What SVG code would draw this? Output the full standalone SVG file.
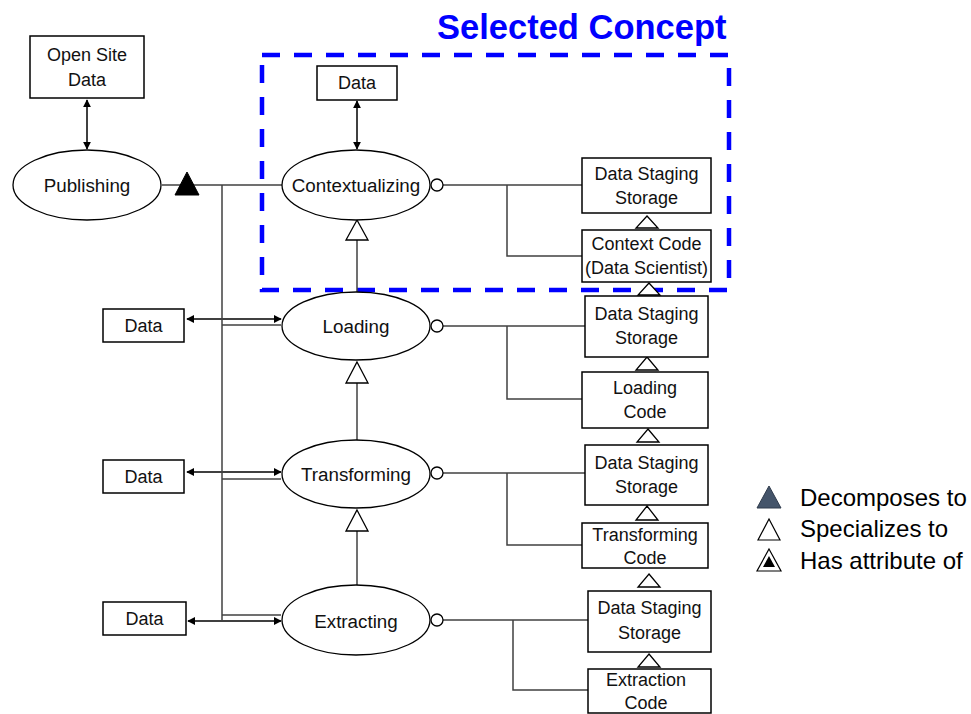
<svg xmlns="http://www.w3.org/2000/svg" width="971" height="714" viewBox="0 0 971 714">
  <style>
    .box { fill: #fff; stroke: #000; stroke-width: 1.5; }
    .proc { fill: #fff; stroke: #000; stroke-width: 1.3; }
    .t { font-family: "Liberation Sans", Arial, sans-serif; font-size: 18px; fill: #111; text-anchor: middle; dominant-baseline: central; }
    .tp { font-family: "Liberation Sans", Arial, sans-serif; font-size: 18.8px; fill: #111; text-anchor: middle; dominant-baseline: central; }
    .wire { fill: none; stroke: #404040; stroke-width: 1.5; }
    .arr { fill: none; stroke: #000; stroke-width: 1.5; marker-start: url(#ah); marker-end: url(#ah); }
    .spec { fill: #fff; stroke: #000; stroke-width: 1.3; }
    .dot { fill: #fff; stroke: #000; stroke-width: 1.3; }
    .leg { font-family: "Liberation Sans", Arial, sans-serif; font-size: 24px; fill: #000; }
  </style>
  <defs>
    <marker id="ah" viewBox="0 0 10 10" refX="9" refY="5" markerWidth="8" markerHeight="8" markerUnits="userSpaceOnUse" orient="auto-start-reverse">
      <path d="M0,0 L10,5 L0,10 z" fill="#000"/>
    </marker>
  </defs>

  <rect width="971" height="714" fill="#fff"/>

  <!-- selection frame -->
  <g id="selection">
    <rect x="262" y="55" width="467" height="235" fill="none" stroke="#0000FF" stroke-width="4.5" stroke-dasharray="18 14"/>
    <text x="437" y="39" font-family="Liberation Sans, Arial, sans-serif" font-size="34.5" font-weight="bold" fill="#0000FF">Selected Concept</text>
  </g>

  <!-- connectors -->
  <g id="connectors">
    <!-- data exchange arrows -->
    <line class="arr" x1="87" y1="100" x2="87" y2="149"/>
    <line class="arr" x1="357" y1="101" x2="357" y2="149"/>
    <line class="arr" x1="187" y1="319" x2="281" y2="319"/>
    <line class="arr" x1="187" y1="472" x2="281" y2="472"/>
    <line class="arr" x1="188" y1="621" x2="281" y2="621"/>

    <!-- decomposition trunk -->
    <line class="wire" x1="162" y1="185" x2="282" y2="185"/>
    <line class="wire" x1="222" y1="185" x2="222" y2="621"/>
    <line class="wire" x1="222" y1="325" x2="281" y2="325"/>
    <line class="wire" x1="222" y1="479" x2="281" y2="479"/>
    <line class="wire" x1="222" y1="615" x2="281" y2="615"/>

    <!-- specialization chain of processes -->
    <line class="wire" x1="357" y1="240" x2="357" y2="292"/>
    <line class="wire" x1="357" y1="383" x2="357" y2="440"/>
    <line class="wire" x1="357" y1="531" x2="357" y2="585"/>

    <!-- attribute links to storage / code -->
    <line class="wire" x1="443" y1="185" x2="582" y2="185"/>
    <polyline class="wire" points="507,185 507,256 582,256"/>
    <line class="wire" x1="443" y1="326" x2="585" y2="326"/>
    <polyline class="wire" points="507,326 507,399 582,399"/>
    <line class="wire" x1="443" y1="473" x2="585" y2="473"/>
    <polyline class="wire" points="507,473 507,545 582,545"/>
    <line class="wire" x1="443" y1="620" x2="588" y2="620"/>
    <polyline class="wire" points="513,620 513,690 588,690"/>

    <!-- decomposition marker -->
    <polygon points="187,172 199,195 175,195" fill="#000" stroke="#000" stroke-width="1"/>

    <!-- specialization markers under processes -->
    <polygon class="spec" points="357,220 368,240 346,240"/>
    <polygon class="spec" points="357,362 368,383 346,383"/>
    <polygon class="spec" points="357,510 368,531 346,531"/>

    <!-- specialization markers between storage / code boxes -->
    <polygon class="spec" points="647,216 658,228 636,228"/>
    <polygon class="spec" points="649,283 660,295 638,295"/>
    <polygon class="spec" points="647,357 658,370 636,370"/>
    <polygon class="spec" points="648,429 659,442 637,442"/>
    <polygon class="spec" points="647,506 658,520 636,520"/>
    <polygon class="spec" points="649,574 660,587 638,587"/>
    <polygon class="spec" points="649,654 660,667 638,667"/>

    <!-- attribute circles -->
    <circle class="dot" cx="437" cy="185" r="6"/>
    <circle class="dot" cx="437" cy="326" r="6"/>
    <circle class="dot" cx="437" cy="473" r="6"/>
    <circle class="dot" cx="437" cy="620" r="6"/>
  </g>

  <!-- nodes -->
  <g id="open-site-data">
    <rect class="box" x="30" y="36" width="114" height="62"/>
    <text class="t" x="87" y="55">Open Site</text>
    <text class="t" x="87" y="80">Data</text>
  </g>
  <g id="publishing">
    <ellipse class="proc" cx="87" cy="185" rx="74" ry="35"/>
    <text class="tp" x="87" y="185">Publishing</text>
  </g>

  <g id="data-ctx">
    <rect class="box" x="317" y="66" width="80" height="34"/>
    <text class="t" x="357" y="83">Data</text>
  </g>
  <g id="contextualizing">
    <ellipse class="proc" cx="356" cy="185" rx="74" ry="35"/>
    <text class="tp" x="356" y="185">Contextualizing</text>
  </g>
  <g id="dss-ctx">
    <rect class="box" x="582" y="158" width="129" height="55"/>
    <text class="t" x="646.5" y="174">Data Staging</text>
    <text class="t" x="646.5" y="198">Storage</text>
  </g>
  <g id="context-code">
    <rect class="box" x="582" y="230" width="129" height="52"/>
    <text class="t" x="646.5" y="244">Context Code</text>
    <text class="t" x="646.5" y="268" font-size="17.3">(Data Scientist)</text>
  </g>

  <g id="data-load">
    <rect class="box" x="103" y="309" width="81" height="33"/>
    <text class="t" x="143.5" y="326">Data</text>
  </g>
  <g id="loading">
    <ellipse class="proc" cx="356" cy="326" rx="74" ry="34"/>
    <text class="tp" x="356" y="326">Loading</text>
  </g>
  <g id="dss-load">
    <rect class="box" x="585" y="296" width="123" height="61"/>
    <text class="t" x="646.5" y="314">Data Staging</text>
    <text class="t" x="646.5" y="338">Storage</text>
  </g>
  <g id="loading-code">
    <rect class="box" x="582" y="372" width="126" height="56"/>
    <text class="t" x="645" y="388">Loading</text>
    <text class="t" x="645" y="412">Code</text>
  </g>

  <g id="data-transform">
    <rect class="box" x="103" y="460" width="81" height="33"/>
    <text class="t" x="143.5" y="477">Data</text>
  </g>
  <g id="transforming">
    <ellipse class="proc" cx="356" cy="474" rx="74" ry="34"/>
    <text class="tp" x="356" y="474">Transforming</text>
  </g>
  <g id="dss-transform">
    <rect class="box" x="585" y="445" width="123" height="60"/>
    <text class="t" x="646.5" y="463">Data Staging</text>
    <text class="t" x="646.5" y="487">Storage</text>
  </g>
  <g id="transforming-code">
    <rect class="box" x="582" y="523" width="126" height="45"/>
    <text class="t" x="645" y="535">Transforming</text>
    <text class="t" x="645" y="558">Code</text>
  </g>

  <g id="data-extract">
    <rect class="box" x="103" y="602" width="83" height="33"/>
    <text class="t" x="144.5" y="619">Data</text>
  </g>
  <g id="extracting">
    <ellipse class="proc" cx="356" cy="620" rx="74" ry="35"/>
    <text class="tp" x="356" y="621">Extracting</text>
  </g>
  <g id="dss-extract">
    <rect class="box" x="588" y="591" width="123" height="61"/>
    <text class="t" x="649.5" y="608">Data Staging</text>
    <text class="t" x="649.5" y="633">Storage</text>
  </g>
  <g id="extraction-code">
    <rect class="box" x="588" y="669" width="123" height="44"/>
    <text class="t" x="646" y="680">Extraction</text>
    <text class="t" x="646" y="703">Code</text>
  </g>

  <!-- legend -->
  <g id="legend">
    <polygon points="769,486 781,508 757,508" fill="#44546A" stroke="#2F3B4C" stroke-width="1"/>
    <text class="leg" x="800" y="506">Decomposes to</text>
    <polygon points="769,519 780,540 758,540" fill="#fff" stroke="#000" stroke-width="1.2"/>
    <text class="leg" x="800" y="537">Specializes to</text>
    <polygon points="769,549 781,571 757,571" fill="#fff" stroke="#000" stroke-width="1.2"/>
    <polygon points="769,556 775,567 763,567" fill="#000"/>
    <text class="leg" x="800" y="569">Has attribute of</text>
  </g>
</svg>
